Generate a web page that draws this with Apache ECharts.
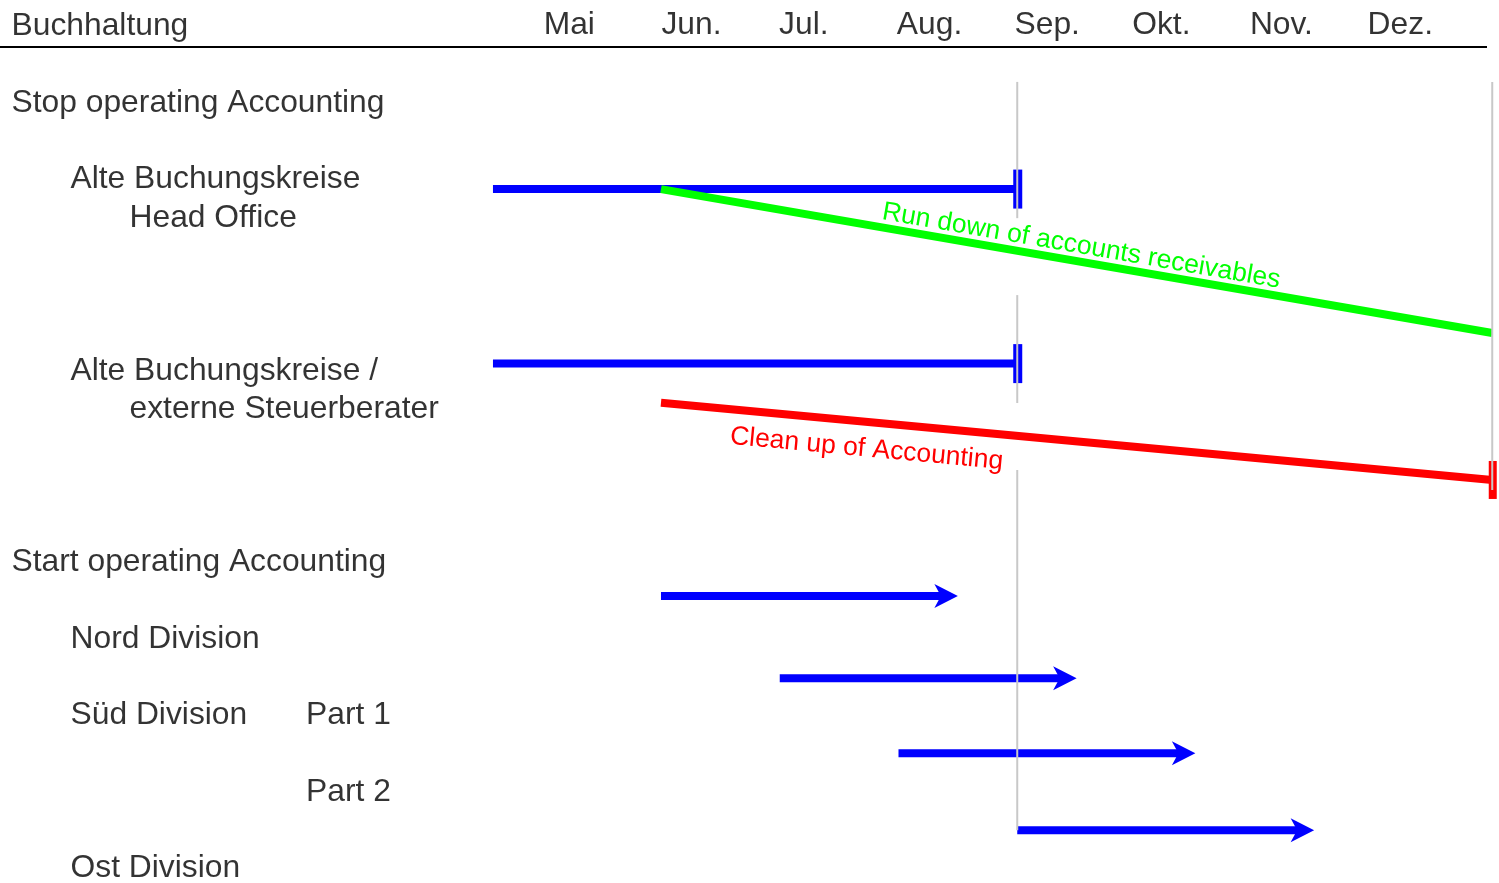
<!DOCTYPE html>
<html>
<head>
<meta charset="utf-8">
<script src="https://cdn.jsdelivr.net/npm/echarts@6/dist/echarts.min.js"></script>
<style>
html,body{margin:0;padding:0;background:#ffffff;}
#chart{width:1499px;height:883px;}
</style>
</head>
<body>
<div id="chart"></div>
<script>
// ---------- data ----------
const monthNames = ['Mai', 'Jun.', 'Jul.', 'Aug.', 'Sep.', 'Okt.', 'Nov.', 'Dez.'];
const monthStarts = [5, 6, 7, 8, 9, 10, 11, 12];

const rowLabels = ['Buchhaltung', 'Stop operating Accounting', 'Alte Buchungskreise', 'Head Office',
  'Alte Buchungskreise /', 'externe Steuerberater', 'Start operating Accounting',
  'Nord Division', 'Süd Division', 'Part 1', 'Part 2', 'Ost Division'];
const rowLines = [0, 2, 4, 5, 9, 10, 14, 16, 18, 18, 20, 22];
const rowLevels = [0, 0, 1, 2, 1, 2, 0, 1, 1, 3, 3, 1];

// old company codes: run until end of August
const oldStart = [4.585, 4.585];
const oldEnd = [9, 9];
const oldRow = [4.31, 8.87];

// run down of accounts receivables
const runDownX = [6, 13];
const runDownY = [4.31, 8.07];
const runDownText = 'Run down of accounts receivables';

// clean up of accounting
const cleanUpX = [6, 13];
const cleanUpY = [9.89, 11.91];
const cleanUpText = 'Clean up of Accounting';

// start operating accounting (arrows)
const startFrom = [6, 7, 8, 9];
const startTo = [8.5, 9.5, 10.5, 11.5];
const startRow = [14.94, 17.09, 19.05, 21.06];

// grey milestone guides
const guideX = [9, 9, 9, 13];
const guideTop = [1.51, 7.08, 11.65, 1.51];
const guideBottom = [5.07, 9.90, 21.06, 12.17];

// ---------- style ----------
const FONT = '"Liberation Sans", Arial, Helvetica, sans-serif';
const INDENT_PX = [11.5, 70.5, 129.5, 306];
const BLUE = '#0000ff', GREEN = '#00ff00', RED = '#ff0000', GREY = '#c8c8c8';
const LW = 8;

function seg(a, b, color, w) {
  return { type: 'line', shape: { x1: a[0], y1: a[1], x2: b[0], y2: b[1] },
    style: { stroke: color, lineWidth: w, lineCap: 'butt' } };
}

function renderOld(params, api) {
  const a = api.coord([api.value(0), api.value(1)]);
  const b = api.coord([api.value(2), api.value(1)]);
  return { type: 'group', children: [
    seg(a, b, BLUE, LW),
    { type: 'rect', shape: { x: b[0] - 4, y: b[1] - 19.5, width: 9, height: 39 }, style: { fill: BLUE } }
  ] };
}

function makeSlope(color, text, along, perp, below, marker) {
  return function (params, api) {
    const a = api.coord([api.value(0), api.value(1)]);
    const b = api.coord([api.value(2), api.value(3)]);
    const dx = b[0] - a[0], dy = b[1] - a[1];
    const len = Math.hypot(dx, dy);
    const ux = dx / len, uy = dy / len;
    const anchor = [a[0] + ux * along, a[1] + uy * along];
    const children = [seg(a, b, color, LW)];
    if (marker) {
      children.push({ type: 'rect', shape: { x: b[0] - 3.5, y: b[1] - 19, width: 8, height: 38 }, style: { fill: color } });
    }
    children.push({
      type: 'text', x: anchor[0], y: anchor[1], rotation: -Math.atan2(dy, dx),
      style: { text: text, x: 0, y: below ? perp : -perp, fill: color,
        font: '26.5px ' + FONT, align: 'left', verticalAlign: below ? 'top' : 'bottom' }
    });
    return { type: 'group', children: children };
  };
}

function renderArrow(params, api) {
  const a = api.coord([api.value(0), api.value(1)]);
  const b = api.coord([api.value(2), api.value(1)]);
  const dx = b[0] - a[0], dy = b[1] - a[1];
  const len = Math.hypot(dx, dy);
  const ux = dx / len, uy = dy / len, nx = -uy, ny = ux;
  const L = 23.5, W = 12, N = 17;
  const back = [b[0] - ux * L, b[1] - uy * L];
  const notch = [b[0] - ux * N, b[1] - uy * N];
  return { type: 'group', children: [
    seg(a, [notch[0] + ux * 2, notch[1] + uy * 2], BLUE, LW),
    { type: 'polygon', shape: { points: [b, [back[0] + nx * W, back[1] + ny * W], notch, [back[0] - nx * W, back[1] - ny * W]] },
      style: { fill: BLUE } }
  ] };
}

function renderGuide(params, api) {
  const a = api.coord([api.value(0), api.value(1)]);
  const b = api.coord([api.value(0), api.value(2)]);
  return seg(a, b, GREY, 2);
}

const X_MIN = 0.4337, X_MAX = 13.0569;          // timeline scale
const HEAD_MIN = 0.3806, HEAD_MAX = 13.1164;    // header (month label) scale

const labelStyle = { color: '#000000', fontSize: 31.8, fontFamily: FONT };

const option = {
  animation: false,
  backgroundColor: '#ffffff',
  grid: { left: 0, right: 0, top: 0, bottom: 0, containLabel: false },
  xAxis: [
    { type: 'value', min: X_MIN, max: X_MAX, show: false },
    { type: 'value', min: 0, max: 1499, show: false },
    { type: 'value', min: HEAD_MIN, max: HEAD_MAX, show: false }
  ],
  yAxis: [{ type: 'value', inverse: true, min: -0.63, max: 22.44, show: false }],
  graphic: [{
    type: 'line', shape: { x1: 0, y1: 47, x2: 1487, y2: 47 },
    style: { stroke: '#000000', lineWidth: 2 }, z: 10
  }],
  series: [
    { type: 'custom', name: 'old', xAxisIndex: 0, yAxisIndex: 0, z: 2,
      data: oldStart.map((s, i) => [s, oldRow[i], oldEnd[i]]), renderItem: renderOld },
    { type: 'custom', name: 'runDown', z: 3,
      data: [[runDownX[0], runDownY[0], runDownX[1], runDownY[1]]],
      renderItem: makeSlope(GREEN, runDownText, 222, 2, false, false) },
    { type: 'custom', name: 'cleanUp', z: 3,
      data: [[cleanUpX[0], cleanUpY[0], cleanUpX[1], cleanUpY[1]]],
      renderItem: makeSlope(RED, cleanUpText, 72, 13.7, true, true) },
    { type: 'custom', name: 'start', z: 2,
      data: startFrom.map((s, i) => [s, startRow[i], startTo[i]]), renderItem: renderArrow },
    { type: 'custom', name: 'guides', z: 4,
      data: guideX.map((x, i) => [x, guideTop[i], guideBottom[i]]), renderItem: renderGuide },
    { type: 'scatter', name: 'rows', xAxisIndex: 1, yAxisIndex: 0, z: 5, symbolSize: 0, silent: true,
      data: rowLabels.map((t, i) => ({ value: [INDENT_PX[rowLevels[i]], rowLines[i]], name: t })),
      label: Object.assign({ show: true, position: 'right', distance: 0, offset: [0, 2.5],
        formatter: p => p.name }, labelStyle) },
    { type: 'scatter', name: 'months', xAxisIndex: 2, yAxisIndex: 0, z: 5, symbolSize: 0, silent: true,
      data: monthNames.map((t, i) => ({ value: [monthStarts[i], 0], name: t })),
      label: Object.assign({ show: true, position: 'right', distance: 0, offset: [0, 1.5],
        formatter: p => p.name }, labelStyle) }
  ]
};

const chart = echarts.init(document.getElementById('chart'), null, { renderer: 'canvas' });
chart.setOption(option);
</script>
</body>
</html>
